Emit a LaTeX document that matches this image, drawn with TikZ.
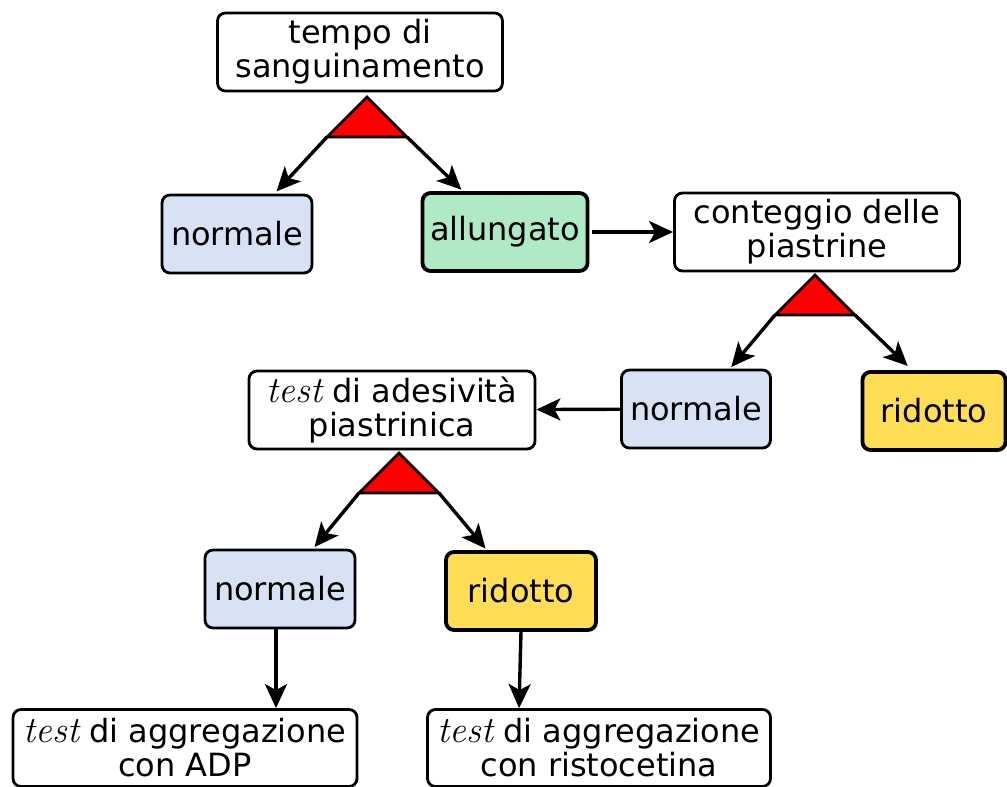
\documentclass[tikz,border=0pt]{standalone}
\usepackage{fontspec}
\setsansfont{DejaVu Sans}
\usetikzlibrary{arrows.meta,shapes.misc}

\definecolor{normblue}{HTML}{D7E3F4}
\definecolor{longgreen}{HTML}{AFE9C6}
\definecolor{lowyellow}{HTML}{FFDD55}
\newcommand{\tst}{{\rmfamily\itshape\fontsize{37}{34}\selectfont test}}

\begin{document}
\begin{tikzpicture}[x=1pt,y=-1pt,
  box/.style={draw,line width=2.8pt,rounded corners=8pt,align=center,inner sep=0pt,
    minimum height=78pt,font=\sffamily\fontsize{32}{34}\selectfont},
  heavy/.style={box,line width=3.8pt},
  link/.style={line width=3.4pt,-{Stealth[length=24pt,width=22pt,inset=6pt]}},
  tri/.style={draw,fill=red,line width=2.6pt,line join=miter}]
\useasboundingbox (0,0) rectangle (1007,787);

% boxes
\node[box,minimum width=285pt] (tempo) at (360,52) {tempo di\\sanguinamento};
\node[box,fill=normblue,minimum width=150pt] (norm1) at (237,234) {normale};
\node[heavy,fill=longgreen,minimum width=165pt] (allung) at (505,232) {allungato};
\node[box,minimum width=285pt] (conteg) at (817,232) {conteggio delle\\piastrine};
\node[box,fill=normblue,minimum width=149pt] (norm2) at (696,409) {normale};
\node[heavy,fill=lowyellow,minimum width=143pt] (rid1) at (934,411) {ridotto};
\node[box,minimum width=286pt] (adesiv) at (392,410) {\tst{} di adesività\\piastrinica};
\node[box,fill=normblue,minimum width=150pt] (norm3) at (280,589) {normale};
\node[heavy,fill=lowyellow,minimum width=150pt] (rid2) at (521,591) {ridotto};
\node[box,minimum width=344pt,minimum height=77pt] (adp) at (185,748) {\tst{} di aggregazione\\con ADP};
\node[box,minimum width=343pt,minimum height=77pt] (risto) at (599,748) {\tst{} di aggregazione\\con ristocetina};

% red triangles
\foreach \t/\x/\y in {ta/367/97, tb/815/275, tc/399/453} {
  \draw[tri] (\x,\y) -- ++(-40,40) coordinate (\t-l) -- ++(80,0) coordinate (\t-r) -- cycle;
}

% arrows
\draw[link,shorten >=3pt] (ta-l) -- (norm1);
\draw[link,shorten >=2pt] (ta-r) -- (allung);
\draw[link,shorten >=2pt] (tb-l) -- (norm2);
\draw[link,shorten >=6pt] (tb-r) -- ([xshift=-22pt]rid1.north);
\draw[link,shorten >=2pt] (tc-l) -- (norm3);
\draw[link,shorten >=2pt] (tc-r) -- (rid2);
\draw[link,shorten <=3pt] (allung) -- (conteg);
\draw[link] (norm2) -- (adesiv);
\draw[link] ([xshift=-4pt]norm3.south) -- ([xshift=-4pt]norm3.south |- adp.north);
\draw[link] (rid2.south) -- ([xshift=-2pt]rid2.south |- risto.north);
\end{tikzpicture}
\end{document}
